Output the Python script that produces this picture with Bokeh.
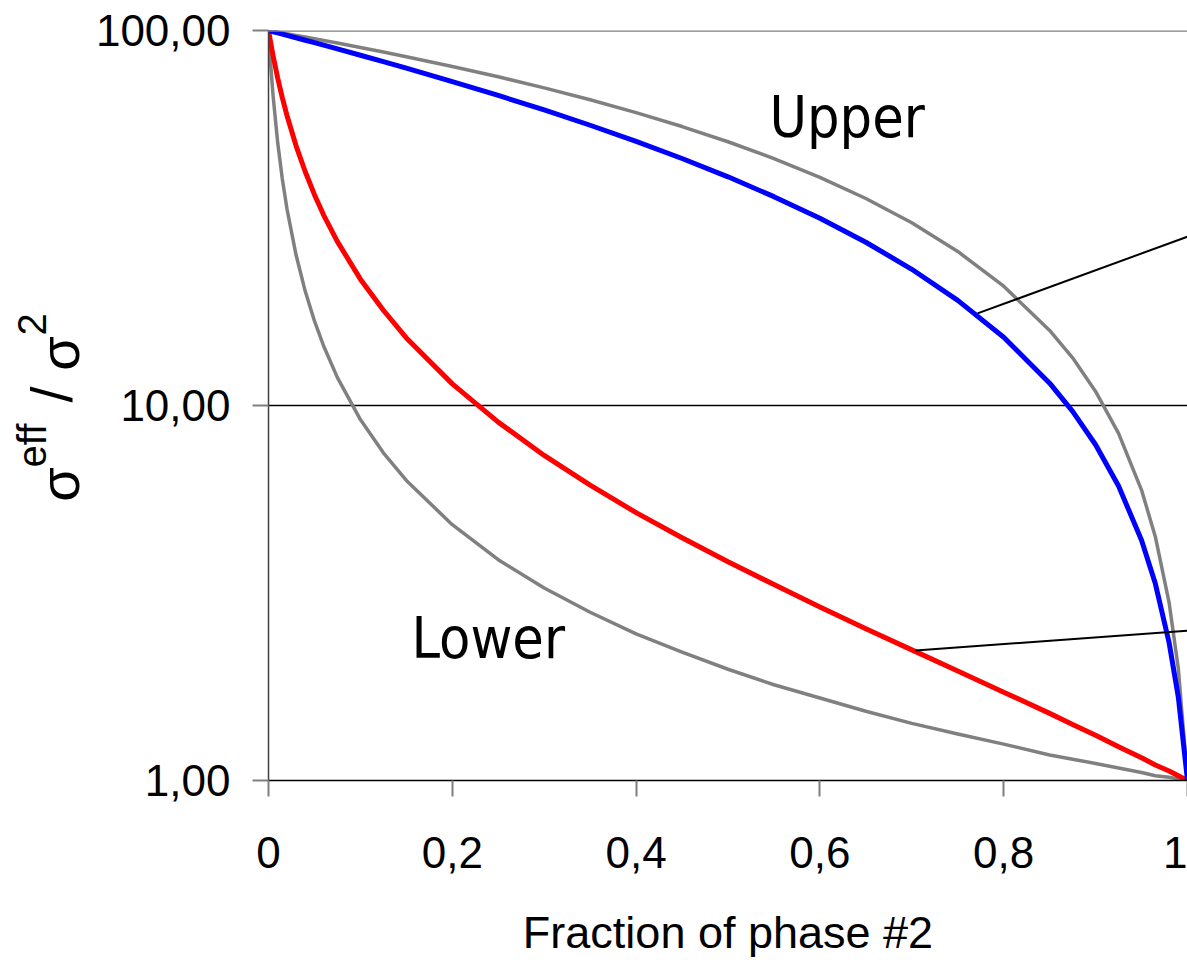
from bokeh.plotting import figure
from bokeh.models import FixedTicker, Label, Span
from bokeh.layouts import row
from bokeh.core.properties import value
from bokeh.embed import file_html
from bokeh.resources import INLINE
import math

# ---- data ----
frac = [0.0, 0.0025, 0.005, 0.01, 0.015, 0.02, 0.03, 0.04, 0.05, 0.06, 0.075, 0.1,
        0.125, 0.15, 0.2, 0.25, 0.3, 0.35, 0.4, 0.45, 0.5, 0.55, 0.6, 0.65, 0.7,
        0.75, 0.8, 0.85, 0.875, 0.9, 0.925, 0.95, 0.965, 0.98, 0.99, 1.0]

upper_bound = [100.0, 99.75, 99.5, 99.01, 98.5, 98.02, 97.03, 96.04, 95.05, 94.06, 92.58, 90.1,
               87.6, 85.15, 80.2, 75.25, 70.3, 65.35, 60.4, 55.45, 50.5, 45.55, 40.6, 35.65, 30.7,
               25.75, 20.8, 15.85, 13.4, 10.9, 8.43, 5.95, 4.47, 2.98, 1.99, 1.0]

lower_bound = [100.0, 80.2, 66.9, 50.25, 40.24, 33.56, 25.19, 20.16, 16.81, 14.41, 11.87, 9.17,
               7.48, 6.31, 4.81, 3.88, 3.26, 2.81, 2.46, 2.20, 1.98, 1.80, 1.66, 1.53, 1.42,
               1.33, 1.25, 1.17, 1.14, 1.11, 1.08, 1.05, 1.03, 1.02, 1.01, 1.0]

blue_curve = [100.0, 99.63, 99.26, 98.52, 97.79, 97.07, 95.63, 94.2, 92.79, 91.39, 89.31, 85.92,
              82.6, 79.36, 73.1, 67.11, 61.38, 55.89, 50.62, 45.57, 40.72, 36.05, 31.57, 27.25, 23.08,
              19.07, 15.2, 11.47, 9.65, 7.86, 6.1, 4.37, 3.35, 2.33, 1.67, 1.0]

red_curve = [100.0, 92.3, 85.55, 74.69, 66.2, 59.45, 49.26, 42.0, 36.49, 32.2, 27.35, 21.72,
             17.95, 15.14, 11.42, 9.03, 7.36, 6.13, 5.18, 4.44, 3.83, 3.33, 2.9, 2.54, 2.23,
             1.96, 1.72, 1.51, 1.41, 1.32, 1.23, 1.15, 1.1, 1.06, 1.03, 1.0]

leader_upper_x = [0.7715, 1.0]
leader_upper_y = [17.6, 28.2]
leader_lower_x = [0.704, 1.0]
leader_lower_y = [2.22, 2.51]

x_ticks = [0, 0.2, 0.4, 0.6, 0.8, 1]
x_tick_labels = ["0", "0,2", "0,4", "0,6", "0,8", "1"]
y_ticks = [1, 10, 100]
y_tick_labels = ["1,00", "10,00", "100,00"]

# ---- layout ----
W, H = 1187, 960
TITLE_W = 90                 # narrow panel holding the rotated y title
FRAME_LEFT = 268             # frame left edge on the page
LEFT = FRAME_LEFT - TITLE_W  # left border of the main figure
TOP, BOTTOM = 30, 180
FW = W - FRAME_LEFT
FH = H - TOP - BOTTOM

def to_data(px, py):
    fx = (px - FRAME_LEFT) / FW
    fy = 10 ** (2.0 * (TOP + FH - py) / FH)
    return fx, fy

FONT = "Liberation Sans"
NARROW = "Liberation Sans Narrow, DejaVu Sans Condensed, Roboto Condensed, Roboto, sans-serif"

p = figure(width=W - TITLE_W, height=H, x_range=(0, 1), y_range=(1, 100), y_axis_type="log",
           output_backend="svg", toolbar_location=None,
           min_border_left=LEFT, min_border_right=0, min_border_top=TOP, min_border_bottom=BOTTOM)
p.outline_line_color = None
p.background_fill_color = "white"
p.border_fill_color = "white"

# axes
p.xaxis.ticker = FixedTicker(ticks=x_ticks, minor_ticks=[])
p.xaxis.major_label_overrides = dict(zip(x_ticks, x_tick_labels))
p.yaxis.ticker = FixedTicker(ticks=y_ticks, minor_ticks=[])
p.yaxis.major_label_overrides = dict(zip(y_ticks, y_tick_labels))

for ax in (p.xaxis, p.yaxis):
    ax.major_label_text_font = FONT
    ax.major_label_text_font_size = "44px"
    ax.major_label_text_color = "black"
    ax.major_tick_in = 0
    ax.major_tick_out = 16
    ax.major_tick_line_color = "#808080"
    ax.major_tick_line_width = 2
    ax.minor_tick_line_color = None

p.xaxis.axis_line_color = "black"
p.xaxis.axis_line_width = 1.5
p.yaxis.axis_line_color = "#404040"
p.yaxis.axis_line_width = 1.5
p.xaxis.major_label_standoff = 40
p.yaxis.major_label_standoff = 22

p.xaxis.axis_label = "Fraction of phase #2"
p.xaxis.axis_label_text_font = FONT
p.xaxis.axis_label_text_font_size = "45px"
p.xaxis.axis_label_text_font_style = "normal"
p.xaxis.axis_label_text_color = "black"
p.xaxis.axis_label_standoff = 36

p.xgrid.visible = False
p.ygrid.ticker = FixedTicker(ticks=y_ticks, minor_ticks=[])
p.ygrid.grid_line_color = "black"
p.ygrid.grid_line_width = 1.5

p.add_layout(Span(location=100, dimension="width", line_color="#808080", line_width=2.5))

# curves
p.line(frac, upper_bound, line_color="#808080", line_width=3.5, line_join="round")
p.line(frac, lower_bound, line_color="#808080", line_width=3.5, line_join="round")
p.line(frac, red_curve, line_color="#FF0000", line_width=5, line_join="round")
p.line(frac, blue_curve, line_color="#0000FF", line_width=5, line_join="round")

p.line(leader_upper_x, leader_upper_y, line_color="black", line_width=2)
p.line(leader_lower_x, leader_lower_y, line_color="black", line_width=2)

# in-plot labels (anchor shifted to compensate label baseline offset)
ux, uy = to_data(769, 116)
p.add_layout(Label(x=ux, y=uy, text="Upper", text_font=NARROW, text_font_size="57px",
                   text_color="black", text_baseline="alphabetic", text_align="left"))
lx, ly = to_data(411, 637)
p.add_layout(Label(x=lx, y=ly, text="Lower", text_font=NARROW, text_font_size="57px",
                   text_color="black", text_baseline="alphabetic", text_align="left"))

# y-axis title: sigma^eff / sigma^2 (rotated), in its own narrow panel.
# The row aligns this panel's frame with the main frame (TOP .. TOP+FH), so the
# y range is chosen such that y = H - (pixel row on the page).
t = figure(width=TITLE_W, height=H, x_range=(0, TITLE_W), y_range=(H - (TOP + FH), H - TOP),
           output_backend="svg", toolbar_location=None,
           x_axis_location=None, y_axis_location=None,
           min_border_left=0, min_border_right=0, min_border_top=TOP, min_border_bottom=BOTTOM)
t.outline_line_color = None
t.xgrid.visible = False
t.ygrid.visible = False
t.background_fill_color = "white"
t.border_fill_color = "white"

parts = [
    ("σ", 59, 484, "56px"),
    ("eff", 31, 445, "40px"),
    ("/", 51, 394, "58px"),
    ("σ", 59, 353, "56px"),
    ("2", 31, 324, "40px"),
]
for txt, px, py, fs in parts:
    t.text(x=[px], y=[H - py], text=[txt], angle=math.pi / 2,
           text_font=value(FONT), text_font_size=fs, text_color="black",
           text_baseline="middle", text_align="center")

open("out.html", "w").write(file_html(row(t, p), INLINE))
